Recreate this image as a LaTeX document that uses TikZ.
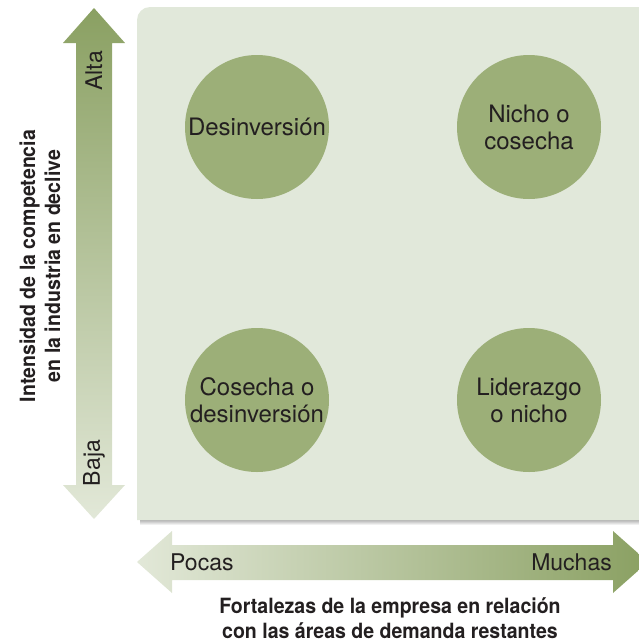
\documentclass[tikz,border=0pt]{standalone}
\usepackage{fontspec}
\setmainfont{TeX Gyre Heros}
\newfontfamily\axisfont{TeX Gyre Heros}[FakeStretch=0.93]
\usepackage{tikz}
\usetikzlibrary{positioning}
\definecolor{PanelGreen}{HTML}{E1E8DA}
\definecolor{LeafGreen}{HTML}{9CAF78}
\definecolor{DeepGreen}{HTML}{8AA062}
\definecolor{PaleGreen}{HTML}{E2E8D8}
\definecolor{InkGray}{HTML}{231F20}

\begin{document}
\begin{tikzpicture}[x=1pt, y=-1pt,
  option_node/.style={circle, fill=LeafGreen, minimum size=144pt, inner sep=0pt, align=center,
    text=InkGray, font=\fontsize{24}{27}\selectfont},
  end_label/.style={text=InkGray, inner sep=0pt, font=\fontsize{23}{27}\selectfont},
  axis_label/.style={text=InkGray, align=center, inner sep=0pt, font=\axisfont\bfseries\fontsize{21}{25}\selectfont},
]
  \useasboundingbox (0,0) rectangle (639,643);
  % panel with its soft shadow
  \shade[top color=black!35, bottom color=white] (140,519) rectangle (639,525);
  \fill[PanelGreen] (137,520) -- (137,100) [rounded corners=13pt] -- (137,7) -- (660,7)
    [sharp corners] -- (660,520) -- cycle;
  % vertical double arrow
  \shade[top color=DeepGreen, bottom color=PaleGreen]
    (94,8) -- (125,43) -- (112,43) -- (112,485) -- (125,485) -- (94,519)
    -- (63,485) -- (76,485) -- (76,43) -- (63,43) -- cycle;
  % horizontal double arrow
  \shade[left color=PaleGreen, right color=DeepGreen]
    (137,562) -- (172,531) -- (172,545) -- (613,545) -- (613,531) -- (648,562)
    -- (613,593) -- (613,580) -- (172,580) -- (172,593) -- cycle;
  % the four options
  \foreach \n/\x/\y/\t in {c1/257/127/{Desinversión}, c2/529/127/{Nicho o\\cosecha},
                           c3/257/400/{Cosecha o\\desinversión}, c4/529/400/{Liderazgo\\o nicho}}
    \node[option_node] (\n) at (\x,\y) {\t};
  % axis ends
  \node[end_label, rotate=90] (alta) at (94,71) {Alta};
  \node[end_label, rotate=90] (baja) at (94,463) {Baja};
  \node[end_label, anchor=base west] (pocas) at (170,570) {Pocas};
  \node[end_label, anchor=base east] (muchas) at (612,570) {Muchas};
  % axis titles
  \node[axis_label, rotate=90] (ytitle) at (40,266) {Intensidad de la competencia\\en la industria en declive};
  \node[axis_label] (xtitle) at (390,618) {Fortalezas de la empresa en relación\\con las áreas de demanda restantes};
\end{tikzpicture}
\end{document}
